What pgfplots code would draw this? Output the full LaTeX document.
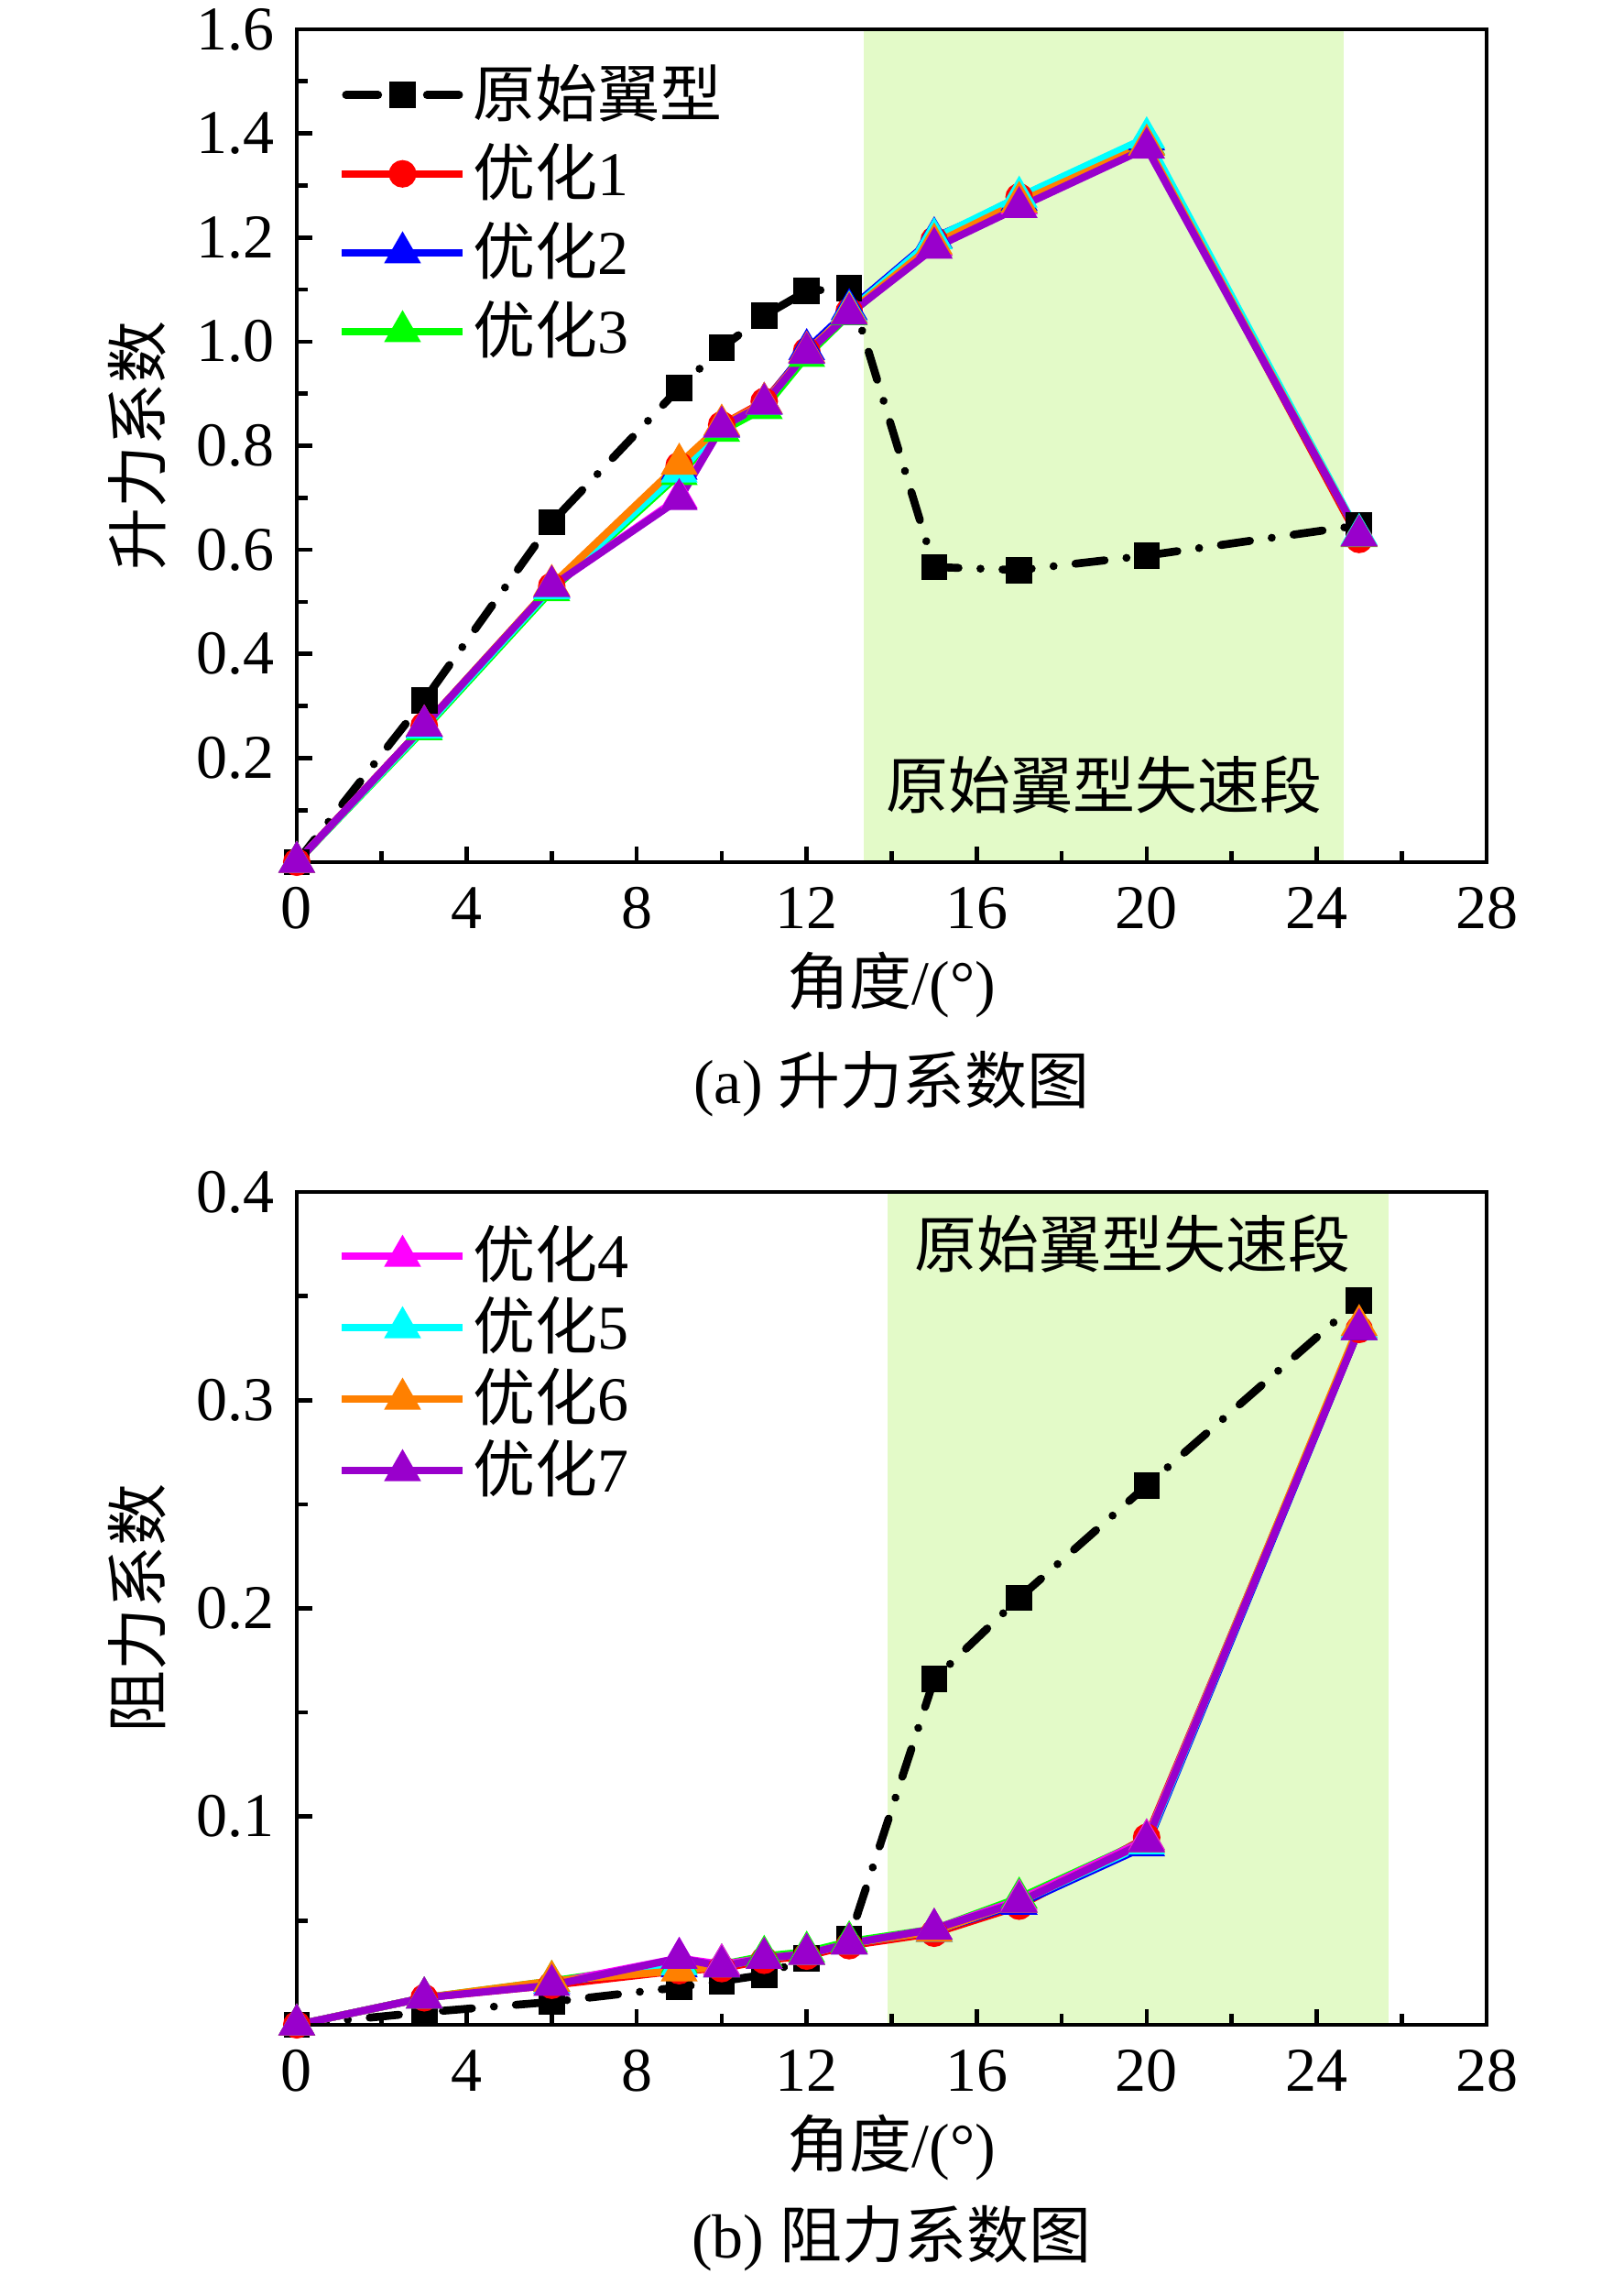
\documentclass[border=0pt]{standalone}
\usepackage{pgfplots}
\pgfplotsset{compat=1.18}
\usepackage{fontspec}
\setmainfont{Liberation Serif}
\newfontfamily\cjk{Noto Sans CJK SC}
\newcommand{\zh}[1]{{\cjk #1}}
\definecolor{shade}{RGB}{227,250,200}
\definecolor{mypurple}{RGB}{153,0,204}
\definecolor{myorange}{RGB}{255,128,0}
\definecolor{mymag}{RGB}{255,0,255}
\definecolor{mycyan}{RGB}{0,255,255}
\definecolor{mygreen}{RGB}{0,255,0}
\definecolor{myred}{RGB}{255,0,0}
\definecolor{myblue}{RGB}{0,0,255}
\pgfplotsset{
  myaxis/.style={
    scale only axis, width=194.85pt, height=136.35pt,
    xmin=0, xmax=28, ymin=0,
    xtick={0,4,...,28}, minor xtick={2,6,...,26},
    tick pos=left, tick align=inside,
    major tick length=2.55pt, minor tick length=1.8pt,
    every tick/.style={black, line width=0.7pt},
    axis line style={line width=0.7pt},
    /pgf/number format/assume math mode=true,
    yticklabel style={/pgf/number format/.cd, fixed, fixed zerofill, precision=1},
    xticklabel style={yshift=-0.5pt},
    every axis x label/.style={at={(axis description cs:0.5,0)}, yshift=-20.1pt, anchor=center},
    every axis y label/.style={at={(axis description cs:0,0.5)}, xshift=-26.1pt, rotate=90, anchor=center},
    xlabel={\zh{角度}/(°)},
    axis on top,
    legend style={draw=none, fill=none, anchor=north west, inner sep=0pt,
      nodes={inner ysep=0.6pt, inner xsep=1pt}, cells={anchor=west}},
    legend image code/.code={\draw[mark repeat=2,mark phase=2,#1] plot coordinates {(0pt,0pt) (9.9pt,0pt) (19.8pt,0pt)};},
  },
  sblack/.style={black, line width=1.3pt, dash pattern={on 4.8pt off 3.6pt on 0.01pt off 3.6pt}, line cap=round, mark=square*, mark size=1.5pt, mark options={solid},
    legend image code/.code={\draw[##1,solid] (0.65pt,0pt)--(5.9pt,0pt) (13.9pt,0pt)--(19.15pt,0pt); \draw[##1,solid] plot coordinates {(9.9pt,0pt)};}},
  sred/.style={myred, line width=1.2pt, mark=*, mark size=1.65pt, mark options={solid}},
  sblue/.style={myblue, line width=1.2pt, mark=triangle*, mark size=2.3pt, mark options={solid}},
  sgreen/.style={mygreen, line width=1.2pt, mark=triangle*, mark size=2.3pt, mark options={solid}},
  smag/.style={mymag, line width=1.2pt, mark=triangle*, mark size=2.3pt, mark options={solid}},
  scyan/.style={mycyan, line width=1.2pt, mark=triangle*, mark size=2.3pt, mark options={solid}},
  sorange/.style={myorange, line width=1.2pt, mark=triangle*, mark size=2.3pt, mark options={solid}},
  spurple/.style={mypurple, line width=1.2pt, mark=triangle*, mark size=2.3pt, mark options={solid}},
}
\begin{document}
\fontsize{10.2pt}{12pt}\selectfont
\begin{tikzpicture}
\path[use as bounding box] (0,0) rectangle (265.8pt,372.3pt);
% ---------------- (a) lift ----------------
\begin{axis}[myaxis, at={(48.6pt,231.15pt)}, anchor=south west,
  ymax=1.6, ytick={0.2,0.4,...,1.6}, minor ytick={0.1,0.3,...,1.5},
  ylabel={\zh{升力系数}},
  legend style={at={(axis description cs:0.034,0.964)}, row sep=1.6pt},
  extra description/.code={\node at (0.5,0) [yshift=-36.3pt] {(a) \zh{升力系数图}};}]
\addplot[draw=none, fill=shade, forget plot] coordinates {(13.35,1.6) (24.64,1.6)} \closedcycle;
\addplot[sblack] coordinates {(0,0)(3,0.311)(6,0.653)(9,0.911)(10,0.988)(11,1.050)(12,1.097)(13,1.103)(15,0.567)(17,0.561)(20,0.589)(25,0.647)};
\addplot[sred] coordinates {(0,0)(3,0.262)(6,0.530)(9,0.762)(10,0.840)(11,0.885)(12,0.982)(13,1.058)(15,1.195)(17,1.278)(20,1.380)(25,0.620)};
\addplot[sblue] coordinates {(0,0)(3,0.260)(6,0.528)(9,0.755)(10,0.838)(11,0.882)(12,0.985)(13,1.062)(15,1.200)(17,1.272)(20,1.388)(25,0.628)};
\addplot[sgreen] coordinates {(0,0)(3,0.255)(6,0.522)(9,0.745)(10,0.828)(11,0.872)(12,0.972)(13,1.052)(15,1.185)(17,1.268)(20,1.380)(25,0.626)};
\addplot[smag] coordinates {(0,0)(3,0.262)(6,0.530)(9,0.700)(10,0.838)(11,0.882)(12,0.980)(13,1.056)(15,1.185)(17,1.265)(20,1.378)(25,0.627)};
\addplot[scyan] coordinates {(0,0)(3,0.258)(6,0.526)(9,0.750)(10,0.836)(11,0.880)(12,0.978)(13,1.058)(15,1.198)(17,1.278)(20,1.392)(25,0.630)};
\addplot[sorange] coordinates {(0,0)(3,0.262)(6,0.532)(9,0.765)(10,0.840)(11,0.882)(12,0.980)(13,1.056)(15,1.188)(17,1.268)(20,1.378)(25,0.627)};
\addplot[spurple] coordinates {(0,0)(3,0.262)(6,0.530)(9,0.697)(10,0.836)(11,0.880)(12,0.978)(13,1.053)(15,1.180)(17,1.258)(20,1.372)(25,0.627)};
\legend{\zh{原始翼型},\zh{优化}1,\zh{优化}2,\zh{优化}3}
\node at (axis cs:19.0,0.148) {\zh{原始翼型失速段}};
\end{axis}
% ---------------- (b) drag ----------------
\begin{axis}[myaxis, at={(48.6pt,40.8pt)}, anchor=south west,
  ymax=0.4, ytick={0.1,0.2,0.3,0.4}, minor ytick={0.05,0.15,0.25,0.35},
  ylabel={\zh{阻力系数}},
  legend style={at={(axis description cs:0.034,0.966)}, row sep=0.4pt},
  extra description/.code={\node at (0.5,0) [yshift=-35pt] {(b) \zh{阻力系数图}};}]
\addplot[draw=none, fill=shade, forget plot] coordinates {(13.9,0.4) (25.7,0.4)} \closedcycle;
\addplot[sblack, forget plot] coordinates {(0,0)(3,0.006)(6,0.011)(9,0.018)(10,0.021)(11,0.024)(12,0.032)(13,0.041)(15,0.166)(17,0.205)(20,0.259)(25,0.348)};
\addplot[sred, forget plot] coordinates {(0,0)(3,0.013)(6,0.019)(9,0.026)(10,0.027)(11,0.031)(12,0.033)(13,0.038)(15,0.044)(17,0.057)(20,0.090)(25,0.334)};
\addplot[sblue, forget plot] coordinates {(0,0)(3,0.013)(6,0.020)(9,0.028)(10,0.028)(11,0.032)(12,0.034)(13,0.039)(15,0.045)(17,0.058)(20,0.086)(25,0.334)};
\addplot[sgreen, forget plot] coordinates {(0,0)(3,0.013)(6,0.021)(9,0.030)(10,0.029)(11,0.033)(12,0.035)(13,0.040)(15,0.046)(17,0.061)(20,0.089)(25,0.335)};
\addplot[smag] coordinates {(0,0)(3,0.013)(6,0.020)(9,0.032)(10,0.029)(11,0.032)(12,0.034)(13,0.039)(15,0.046)(17,0.060)(20,0.089)(25,0.335)};
\addplot[scyan] coordinates {(0,0)(3,0.013)(6,0.020)(9,0.029)(10,0.028)(11,0.032)(12,0.034)(13,0.039)(15,0.045)(17,0.059)(20,0.087)(25,0.335)};
\addplot[sorange] coordinates {(0,0)(3,0.013)(6,0.021)(9,0.026)(10,0.028)(11,0.032)(12,0.034)(13,0.039)(15,0.045)(17,0.059)(20,0.088)(25,0.336)};
\addplot[spurple] coordinates {(0,0)(3,0.013)(6,0.019)(9,0.032)(10,0.028)(11,0.032)(12,0.034)(13,0.039)(15,0.046)(17,0.059)(20,0.088)(25,0.334)};
\legend{\zh{优化}4,\zh{优化}5,\zh{优化}6,\zh{优化}7}
\node at (axis cs:19.66,0.375) {\zh{原始翼型失速段}};
\end{axis}
\end{tikzpicture}
\end{document}
